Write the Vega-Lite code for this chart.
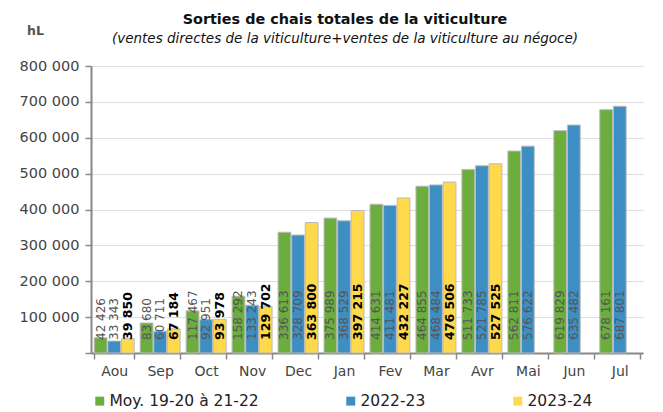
{
  "$schema": "https://vega.github.io/schema/vega-lite/v6.json",
  "autosize": "none",
  "width": 552,
  "height": 287,
  "padding": {"left": 91, "top": 66, "right": 20, "bottom": 59},
  "background": "white",
  "config": {
    "view": {"stroke": null},
    "font": "DejaVu Sans",
    "locale": {"number": {"decimal": ",", "thousands": " ", "grouping": [3], "currency": ["", " €"]}}
  },
  "title": {
    "text": "Sorties de chais totales de la viticulture",
    "subtitle": "(ventes directes de la viticulture+ventes de la viticulture au négoce)",
    "anchor": "middle",
    "frame": "group",
    "dx": -22,
    "offset": -22,
    "font": "DejaVu Sans",
    "fontSize": 14.4,
    "fontWeight": "bold",
    "color": "#111",
    "subtitleFont": "DejaVu Sans",
    "subtitleFontSize": 13.5,
    "subtitleFontStyle": "italic",
    "subtitleColor": "#111",
    "subtitlePadding": 4
  },
  "data": {
    "values": [
      {"mois": "Aou", "serie": "Moy. 19-20 à 21-22", "v": 42426},
      {"mois": "Aou", "serie": "2022-23", "v": 33343},
      {"mois": "Aou", "serie": "2023-24", "v": 39850},
      {"mois": "Sep", "serie": "Moy. 19-20 à 21-22", "v": 83680},
      {"mois": "Sep", "serie": "2022-23", "v": 60711},
      {"mois": "Sep", "serie": "2023-24", "v": 67184},
      {"mois": "Oct", "serie": "Moy. 19-20 à 21-22", "v": 117467},
      {"mois": "Oct", "serie": "2022-23", "v": 92951},
      {"mois": "Oct", "serie": "2023-24", "v": 93978},
      {"mois": "Nov", "serie": "Moy. 19-20 à 21-22", "v": 158292},
      {"mois": "Nov", "serie": "2022-23", "v": 133243},
      {"mois": "Nov", "serie": "2023-24", "v": 129702},
      {"mois": "Dec", "serie": "Moy. 19-20 à 21-22", "v": 336613},
      {"mois": "Dec", "serie": "2022-23", "v": 328709},
      {"mois": "Dec", "serie": "2023-24", "v": 363800},
      {"mois": "Jan", "serie": "Moy. 19-20 à 21-22", "v": 375989},
      {"mois": "Jan", "serie": "2022-23", "v": 368529},
      {"mois": "Jan", "serie": "2023-24", "v": 397215},
      {"mois": "Fev", "serie": "Moy. 19-20 à 21-22", "v": 414631},
      {"mois": "Fev", "serie": "2022-23", "v": 411481},
      {"mois": "Fev", "serie": "2023-24", "v": 432227},
      {"mois": "Mar", "serie": "Moy. 19-20 à 21-22", "v": 464855},
      {"mois": "Mar", "serie": "2022-23", "v": 468484},
      {"mois": "Mar", "serie": "2023-24", "v": 476506},
      {"mois": "Avr", "serie": "Moy. 19-20 à 21-22", "v": 511733},
      {"mois": "Avr", "serie": "2022-23", "v": 521785},
      {"mois": "Avr", "serie": "2023-24", "v": 527525},
      {"mois": "Mai", "serie": "Moy. 19-20 à 21-22", "v": 562811},
      {"mois": "Mai", "serie": "2022-23", "v": 576622},
      {"mois": "Jun", "serie": "Moy. 19-20 à 21-22", "v": 619829},
      {"mois": "Jun", "serie": "2022-23", "v": 635482},
      {"mois": "Jul", "serie": "Moy. 19-20 à 21-22", "v": 678161},
      {"mois": "Jul", "serie": "2022-23", "v": 687801}
    ]
  },
  "encoding": {
    "x": {
      "field": "mois",
      "type": "nominal",
      "sort": ["Aou", "Sep", "Oct", "Nov", "Dec", "Jan", "Fev", "Mar", "Avr", "Mai", "Jun", "Jul"],
      "scale": {"paddingInner": 0.13, "paddingOuter": 0.07},
      "axis": {
        "title": null,
        "labelAngle": 0,
        "tickBand": "extent",
        "labelFont": "DejaVu Sans",
        "labelFontSize": 14,
        "labelColor": "#444",
        "labelPadding": 5,
        "domainColor": "#888",
        "domainWidth": 2,
        "tickColor": "#888",
        "tickSize": 6,
        "tickWidth": 1.5
      }
    },
    "xOffset": {
      "field": "serie",
      "type": "nominal",
      "sort": ["Moy. 19-20 à 21-22", "2022-23", "2023-24"],
      "scale": {"paddingInner": 0.06}
    }
  },
  "layer": [
    {
      "mark": {"type": "bar", "stroke": "#bbb", "strokeWidth": 1},
      "encoding": {
        "y": {
          "field": "v",
          "type": "quantitative",
          "scale": {"domain": [0, 800000]},
          "axis": {
            "title": "hL",
            "titleAngle": 0,
            "titleX": -56,
            "titleY": -36,
            "titleAlign": "center",
            "titleBaseline": "middle",
            "titleFont": "DejaVu Sans",
            "titleFontSize": 12.5,
            "titleFontWeight": "bold",
            "titleColor": "#555",
            "format": ",d",
            "labelExpr": "datum.value === 0 ? '' : datum.label",
            "tickCount": 8,
            "labelFont": "DejaVu Sans",
            "labelFontSize": 14.5,
            "labelColor": "#444",
            "labelPadding": 6,
            "domainColor": "#888",
            "domainWidth": 2,
            "tickColor": "#888",
            "tickSize": 6,
            "tickWidth": 1.5,
            "gridColor": "#ddd",
            "gridWidth": 1
          }
        },
        "color": {
          "field": "serie",
          "type": "nominal",
          "sort": ["Moy. 19-20 à 21-22", "2022-23", "2023-24"],
          "scale": {"domain": ["Moy. 19-20 à 21-22", "2022-23", "2023-24"], "range": ["#6cae3e", "#3d8fc3", "#ffd94c"]},
          "legend": {
            "title": null,
            "orient": "none",
            "direction": "horizontal",
            "legendX": 1,
            "legendY": 327,
            "symbolType": "square",
            "symbolSize": 80,
            "symbolStrokeWidth": 0,
            "labelFont": "DejaVu Sans",
            "labelFontSize": 15.5,
            "labelColor": "#222",
            "labelOffset": 2,
            "columnPadding": 84
          }
        }
      }
    },
    {
      "transform": [{"filter": "datum.serie !== '2023-24'"}],
      "mark": {"type": "text", "angle": 270, "align": "left", "baseline": "middle", "dx": 13, "fontSize": 12, "font": "DejaVu Sans", "color": "#555"},
      "encoding": {
        "y": {"datum": 0, "type": "quantitative"},
        "text": {"field": "v", "type": "quantitative", "format": ",d"}
      }
    },
    {
      "transform": [{"filter": "datum.serie === '2023-24'"}],
      "mark": {"type": "text", "angle": 270, "align": "left", "baseline": "middle", "dx": 13, "fontSize": 12.5, "font": "DejaVu Sans", "fontWeight": "bold", "color": "#000"},
      "encoding": {
        "y": {"datum": 0, "type": "quantitative"},
        "text": {"field": "v", "type": "quantitative", "format": ",d"}
      }
    }
  ]
}
